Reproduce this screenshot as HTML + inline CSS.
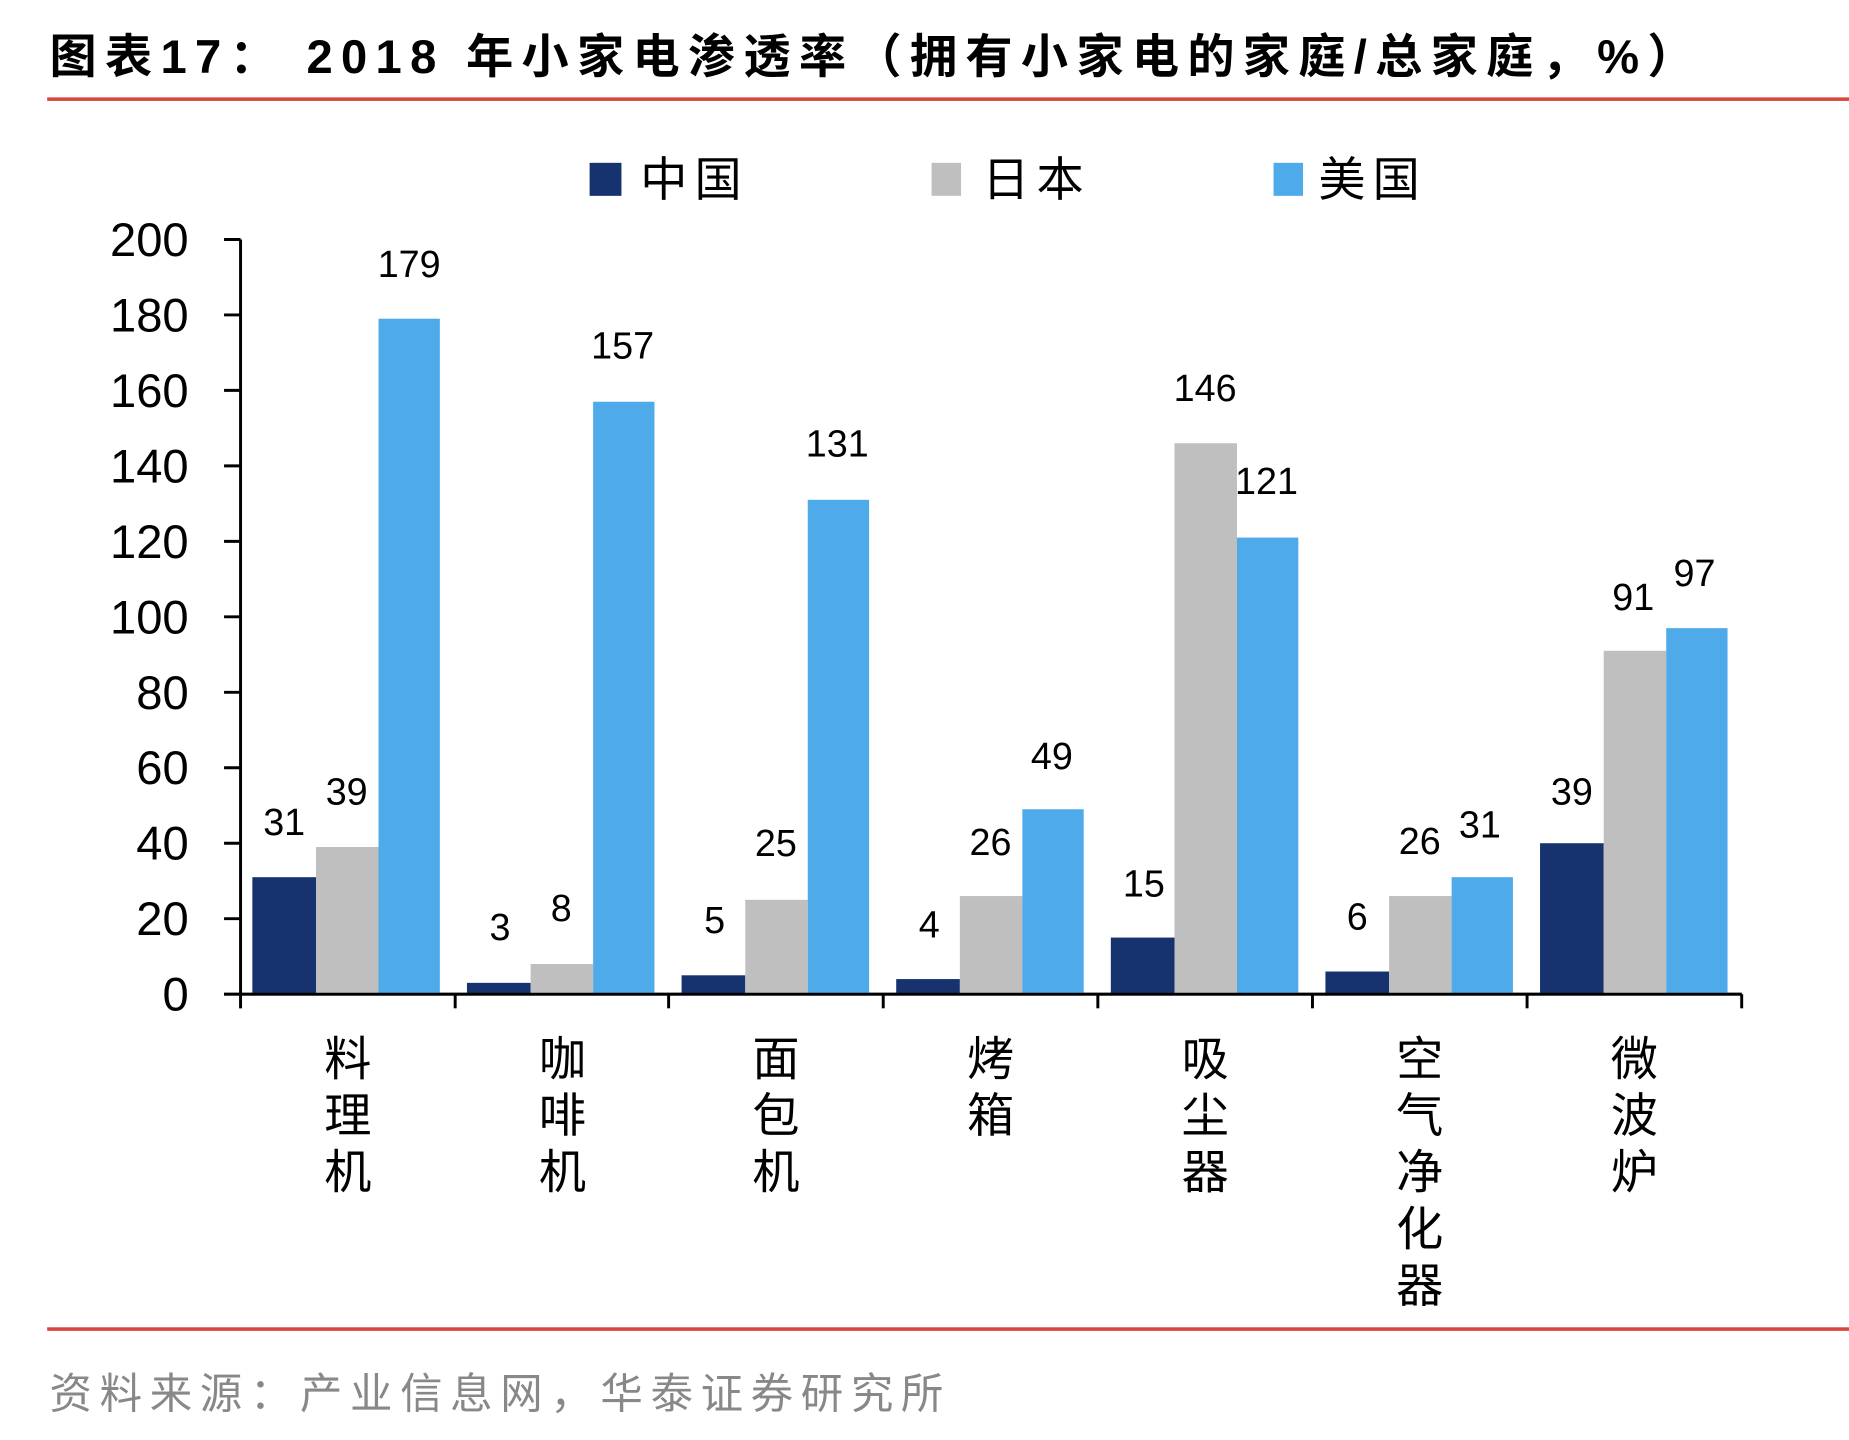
<!DOCTYPE html>
<html><head><meta charset="utf-8"><style>html,body{margin:0;padding:0;background:#fff}svg{display:block}</style></head><body>
<svg width="1849" height="1440" viewBox="0 0 1568 1221" xmlns="http://www.w3.org/2000/svg" font-family="'Liberation Sans','Noto Sans CJK SC',sans-serif">
<text x="42" y="62" font-size="40" font-weight="bold" fill="#000" textLength="1395" lengthAdjust="spacing">图表17：  2018 年小家电渗透率（拥有小家电的家庭/总家庭，%）</text>
<rect x="40" y="82.5" width="1528" height="3" fill="#d9453a"/>
<rect x="500" y="138" width="27" height="28" fill="#16336f"/>
<text x="543" y="166" font-size="40" letter-spacing="6">中国</text>
<rect x="790" y="138" width="25" height="28" fill="#bfbfbf"/>
<text x="833" y="166" font-size="40" letter-spacing="6">日本</text>
<rect x="1080" y="138" width="25" height="28" fill="#4eaae8"/>
<text x="1118" y="166" font-size="40" letter-spacing="6">美国</text>
<g font-size="40" text-anchor="end" dominant-baseline="central">
<text x="160" y="203">200</text><text x="160" y="267">180</text><text x="160" y="331">160</text><text x="160" y="395">140</text><text x="160" y="459">120</text><text x="160" y="523">100</text><text x="160" y="587">80</text><text x="160" y="651">60</text><text x="160" y="715">40</text><text x="160" y="779">20</text><text x="160" y="843">0</text>
</g>
<g stroke="#000" stroke-width="2.5">
<line x1="204" y1="203" x2="204" y2="855"/>
<line x1="190" y1="203" x2="204" y2="203"/><line x1="190" y1="267" x2="204" y2="267"/><line x1="190" y1="331" x2="204" y2="331"/><line x1="190" y1="395" x2="204" y2="395"/><line x1="190" y1="459" x2="204" y2="459"/><line x1="190" y1="523" x2="204" y2="523"/><line x1="190" y1="587" x2="204" y2="587"/><line x1="190" y1="651" x2="204" y2="651"/><line x1="190" y1="715" x2="204" y2="715"/><line x1="190" y1="779" x2="204" y2="779"/>
<line x1="190" y1="843" x2="1477" y2="843"/>
<line x1="386" y1="843" x2="386" y2="855"/><line x1="567" y1="843" x2="567" y2="855"/><line x1="749" y1="843" x2="749" y2="855"/><line x1="931" y1="843" x2="931" y2="855"/><line x1="1113" y1="843" x2="1113" y2="855"/><line x1="1295" y1="843" x2="1295" y2="855"/><line x1="1477" y1="843" x2="1477" y2="855"/>
</g>
<g>
<rect x="214" y="743.8" width="54" height="99.2" fill="#16336f"/><rect x="268" y="718.2" width="53" height="124.8" fill="#bfbfbf"/><rect x="321" y="270.2" width="52" height="572.8" fill="#4eaae8"/>
<rect x="396" y="833.4" width="54" height="9.6" fill="#16336f"/><rect x="450" y="817.4" width="53" height="25.6" fill="#bfbfbf"/><rect x="503" y="340.6" width="52" height="502.4" fill="#4eaae8"/>
<rect x="578" y="827" width="54" height="16" fill="#16336f"/><rect x="632" y="763" width="53" height="80" fill="#bfbfbf"/><rect x="685" y="423.8" width="52" height="419.2" fill="#4eaae8"/>
<rect x="760" y="830.2" width="54" height="12.8" fill="#16336f"/><rect x="814" y="759.8" width="53" height="83.2" fill="#bfbfbf"/><rect x="867" y="686.2" width="52" height="156.8" fill="#4eaae8"/>
<rect x="942" y="795" width="54" height="48" fill="#16336f"/><rect x="996" y="375.8" width="53" height="467.2" fill="#bfbfbf"/><rect x="1049" y="455.8" width="52" height="387.2" fill="#4eaae8"/>
<rect x="1124" y="823.8" width="54" height="19.2" fill="#16336f"/><rect x="1178" y="759.8" width="53" height="83.2" fill="#bfbfbf"/><rect x="1231" y="743.8" width="52" height="99.2" fill="#4eaae8"/>
<rect x="1306" y="715" width="54" height="128" fill="#16336f"/><rect x="1360" y="551.8" width="53" height="291.2" fill="#bfbfbf"/><rect x="1413" y="532.6" width="52" height="310.4" fill="#4eaae8"/>
</g>
<line x1="190" y1="843" x2="1477" y2="843" stroke="#000" stroke-width="2.5"/>
<g font-size="32" text-anchor="middle" dominant-baseline="central">
<text x="241" y="697">31</text><text x="294" y="671">39</text><text x="347" y="224">179</text>
<text x="424" y="786">3</text><text x="476" y="770">8</text><text x="528" y="293">157</text>
<text x="606" y="780">5</text><text x="658" y="715">25</text><text x="710" y="376">131</text>
<text x="788" y="784">4</text><text x="840" y="714">26</text><text x="892" y="641">49</text>
<text x="970" y="749">15</text><text x="1022" y="329">146</text><text x="1074" y="408">121</text>
<text x="1151" y="777">6</text><text x="1204" y="713">26</text><text x="1255" y="699">31</text>
<text x="1333" y="671">39</text><text x="1385" y="506">91</text><text x="1437" y="486">97</text>
</g>
<g font-size="40" text-anchor="middle" dominant-baseline="central">
<text x="295" y="898">料</text><text x="295" y="946">理</text><text x="295" y="994">机</text>
<text x="477" y="898">咖</text><text x="477" y="946">啡</text><text x="477" y="994">机</text>
<text x="658" y="898">面</text><text x="658" y="946">包</text><text x="658" y="994">机</text>
<text x="840" y="898">烤</text><text x="840" y="946">箱</text>
<text x="1022" y="898">吸</text><text x="1022" y="946">尘</text><text x="1022" y="994">器</text>
<text x="1204" y="898">空</text><text x="1204" y="946">气</text><text x="1204" y="994">净</text><text x="1204" y="1042">化</text><text x="1204" y="1090">器</text>
<text x="1386" y="898">微</text><text x="1386" y="946">波</text><text x="1386" y="994">炉</text>
</g>
<rect x="40" y="1125.5" width="1528" height="3" fill="#d9453a"/>
<text x="42" y="1182" font-size="36" fill="#888" dominant-baseline="central" textLength="758" lengthAdjust="spacing">资料来源：产业信息网，华泰证券研究所</text>
</svg>
</body></html>
